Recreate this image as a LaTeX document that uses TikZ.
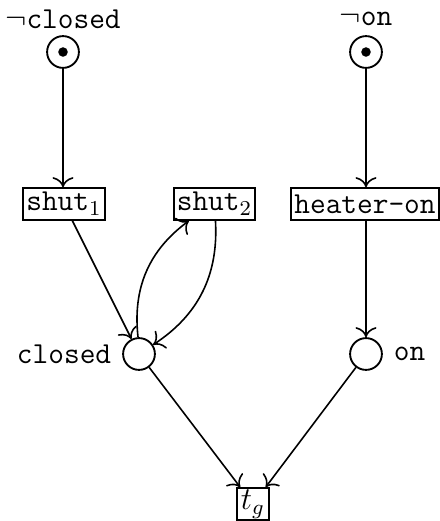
\documentclass[tikz,border=0pt]{standalone}
\usetikzlibrary{arrows.meta}
\begin{document}
\begin{tikzpicture}[x=0.3774pt,y=-0.3774pt,
  every node/.style={font=\fontsize{11.5}{13}\selectfont\ttfamily},
  place/.style={circle,draw,line width=0.7pt,minimum size=12pt,inner sep=0pt},
  trans/.style={rectangle,draw,line width=0.7pt,inner xsep=1.2pt,inner ysep=0pt,minimum height=12pt},
  token/.style={circle,fill,inner sep=0pt,minimum size=3.6pt},
  arc/.style={line width=0.6pt,-{To[scale=1.3]}},
  lbl/.style={inner sep=0.5pt}]
\useasboundingbox (0,0) rectangle (439,521);
\node[place] (nclosed) at (63,52) {};
\node[token] at (nclosed) {};
\node[place] (non) at (366,52) {};
\node[token] at (non) {};
\node[lbl] (lnclosed) at (63,19) {$\neg$closed};
\node[lbl] (lnon) at (366,19) {$\neg$on};
\node[trans] (shut1) at (64,204) {shut$_1$};
\node[trans] (shut2) at (214.5,204) {shut$_2$};
\node[trans] (heater) at (365,204) {heater-on};
\node[place] (closed) at (139,354) {};
\node[place] (on) at (366,354) {};
\node[lbl,anchor=east] (lclosed) at (113,354) {closed};
\node[lbl,anchor=west] (lon) at (392,354) {on};
\node[trans,minimum width=12pt] (tg) at (253,504) {\normalfont$t_g$};
\draw[arc] (nclosed) -- (shut1.north -| nclosed);
\draw[arc] (non) -- (heater.north -| non);
\draw[arc] (shut1) -- (closed);
\draw[arc] (closed) to[bend left=30] (shut2);
\draw[arc] (shut2) to[bend left=30] (closed);
\draw[arc] (heater.south -| on) -- (on);
\draw[arc] (closed) -- (tg);
\draw[arc] (on) -- (tg);
\end{tikzpicture}
\end{document}
